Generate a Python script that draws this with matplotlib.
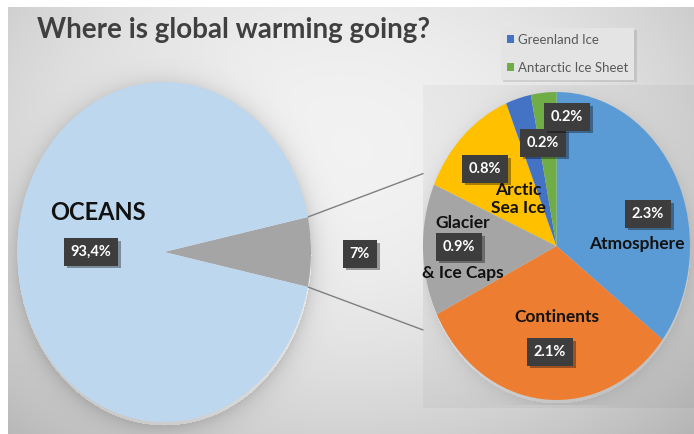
import numpy as np
import matplotlib.pyplot as plt
from matplotlib import patheffects as pe
from matplotlib.patches import ConnectionPatch

plt.rcParams['font.family'] = ['Lato', 'DejaVu Sans']

# ── data ─────────────────────────────────────────
main_names = ['OCEANS', 'Other']
main_values = [93.4, 6.6]
main_texts = ['93,4%', '7%']
main_colors = ['#BDD7EE', '#A5A5A5']

sub_names = ['Atmosphere', 'Continents', 'Glacier & Ice Caps', 'Arctic Sea Ice',
             'Greenland Ice', 'Antarctic Ice Sheet']
sub_values = [2.3, 2.1, 0.9, 0.8, 0.2, 0.2]
sub_texts = ['2.3%', '2.1%', '0.9%', '0.8%', '0.2%', '0.2%']
sub_colors = ['#5B9BD5', '#ED7D31', '#A5A5A5', '#FFC000', '#4472C4', '#70AD47']

# ── layout (pixels, origin top-left) ─────────────
W, H = 694, 434
L_BOX = (17, 82, 294, 340)     # x, y, w, h of left pie
R_BOX = (423, 92, 267, 308)    # right pie
PLOT_RECT = (423, 85, 271, 319)

main_val_pos = [(91, 252), (360, 254)]
sub_val_pos = [(648, 214), (550, 352), (459, 247), (485, 169), (543, 143), (567, 117)]
name_pos = [('OCEANS', 98, 213, 17, 'bold'),
            ('Atmosphere', 637, 244, 12.5, 'bold'),
            ('Continents', 557, 317, 12.5, 'bold'),
            ('Glacier', 463, 223, 12.5, 'bold'),
            ('& Ice Caps', 463, 273, 12.5, 'bold'),
            ('Arctic\nSea Ice', 518, 199, 12.5, 'bold')]


def frac(box):
    x, y, w, h = box
    return [x / W, (H - y - h) / H, w / W, h / H]


# ── background ───────────────────────────────────
yy, xx = np.mgrid[0:H, 0:W].astype(float)
r = np.sqrt(((xx - 340) / 430) ** 2 + ((yy - 150) / 330) ** 2)
bg = 0.95 - 0.17 * np.clip(r, 0, 1.3) ** 2


def halo(box, strength, spread):
    x, y, w, h = box
    cx, cy, rx, ry = x + w / 2, y + h / 2 + 3, w / 2, h / 2
    re = np.sqrt(((xx - cx) / rx) ** 2 + ((yy - cy) / ry) ** 2)
    d = (re - 1) * (rx + ry) / 2
    return strength * np.exp(-np.clip(d, 0, None) / spread) * (d > 0)


bg -= halo(L_BOX, 0.12, 10)
px, py, pw, ph = PLOT_RECT
inside = (xx >= px) & (yy >= py) & (yy <= py + ph)
bg = np.where(inside, bg - 0.03, bg)
edge = (xx >= px) & (yy > py + ph) & (yy <= py + ph + 3)
bg = np.where(edge, bg - 0.03, bg)
bg -= halo(R_BOX, 0.06, 8) * inside
bg[:7, :] = 1.0
bg[:, :8] = 1.0
img = np.dstack([bg, bg, bg])

fig = plt.figure(figsize=(W / 100, H / 100), dpi=100)
ax_bg = fig.add_axes([0, 0, 1, 1], zorder=0)
ax_bg.imshow(img, extent=(0, W, H, 0), aspect='auto', interpolation='bilinear')
ax_bg.set_xlim(0, W); ax_bg.set_ylim(H, 0)
ax_bg.axis('off')

# ── left pie ─────────────────────────────────────
ax_l = fig.add_axes(frac(L_BOX), zorder=1)
start = -main_values[1] / sum(main_values) * 180
wl, _ = ax_l.pie(main_values[::-1], colors=main_colors[::-1], startangle=start,
                 counterclock=True, radius=1)
ax_l.set_xlim(-1, 1); ax_l.set_ylim(-1, 1); ax_l.set_aspect('auto')
ax_l.patch.set_visible(False)

# ── right pie ────────────────────────────────────
ax_r = fig.add_axes(frac(R_BOX), zorder=1)
wr, _ = ax_r.pie(sub_values, colors=sub_colors, startangle=90, counterclock=False, radius=1)
ax_r.set_xlim(-1, 1); ax_r.set_ylim(-1, 1); ax_r.set_aspect('auto')
ax_r.patch.set_visible(False)

# connector lines
grey = wl[0]
for th, yb in [(grey.theta2, 0.47), (grey.theta1, -0.545)]:
    t = np.deg2rad(th)
    con = ConnectionPatch(xyA=(np.cos(t), np.sin(t)), coordsA=ax_l.transData,
                          xyB=(-1, yb), coordsB=ax_r.transData,
                          color='#7f7f7f', lw=1.0)
    fig.add_artist(con)

# ── texts ────────────────────────────────────────
ax_t = fig.add_axes([0, 0, 1, 1], zorder=3)
ax_t.set_xlim(0, W); ax_t.set_ylim(H, 0)
ax_t.axis('off')

ax_t.text(37, 38, 'Where is global warming going?', fontsize=20, fontweight='bold',
          color='#404040', va='baseline', ha='left')

shadow = [pe.withSimplePatchShadow(offset=(2, -2), shadow_rgbFace='k', alpha=0.35)]


def value_box(x, y, s):
    t = ax_t.text(x, y, s, color='white', fontsize=10.5, fontweight='bold',
                  ha='center', va='center',
                  bbox=dict(boxstyle='square,pad=0.45', fc='#3d3d3d', ec='none'))
    t.get_bbox_patch().set_path_effects(shadow)


for s, (x, y) in zip(main_texts, main_val_pos):
    value_box(x, y, s)
for s, (x, y) in zip(sub_texts, sub_val_pos):
    value_box(x, y, s)

for s, x, y, fs, fw in name_pos:
    ax_t.text(x, y, s, fontsize=fs, fontweight=fw, color='#111111',
              ha='center', va='center', linespacing=1.1)

leg = fig.legend(handles=[wr[4], wr[5]], labels=sub_names[4:], loc='upper left',
                 bbox_to_anchor=(501 / W, 1 - 28 / H), frameon=True, fancybox=False,
                 facecolor='#e4e4e4', edgecolor='none', framealpha=1,
                 fontsize=9.5, labelcolor='#595959', handlelength=0.55, handleheight=0.55,
                 handletextpad=0.3, labelspacing=1.2, borderpad=0.45, borderaxespad=0)
leg.set_zorder(4)
leg.get_frame().set_path_effects([pe.withSimplePatchShadow(offset=(1.5, -1.5), alpha=0.15)])

fig.savefig('out.png', dpi=100)
